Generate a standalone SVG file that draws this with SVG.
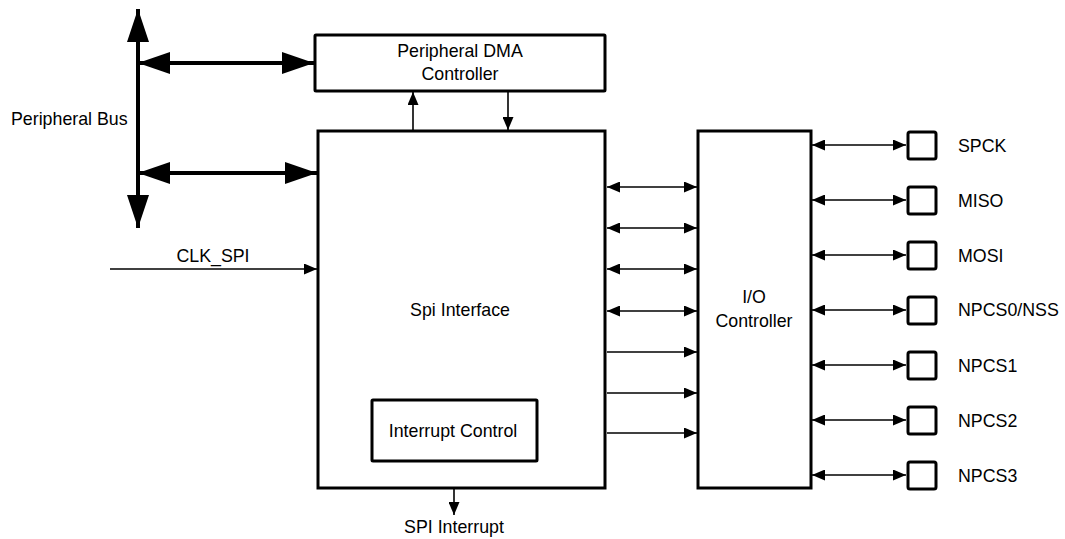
<svg xmlns="http://www.w3.org/2000/svg" width="1065" height="539" viewBox="0 0 1065 539">
<style>
text{font-family:"Liberation Sans",Arial,sans-serif;font-size:17.8px;fill:#000}
.c{text-anchor:middle}
.box{fill:#fff;stroke:#000;stroke-width:3}
.thin{stroke:#000;stroke-width:1.6;fill:none}
.thick{stroke:#000;stroke-width:4;fill:none}
</style>
<defs>
<marker id="big" markerUnits="userSpaceOnUse" viewBox="0 0 32 22" refX="32" refY="11" markerWidth="32" markerHeight="22" orient="auto-start-reverse"><path d="M0,0L32,11L0,22z" fill="#000"/></marker>
<marker id="bus" markerUnits="userSpaceOnUse" viewBox="0 0 33 22" refX="33" refY="11" markerWidth="33" markerHeight="22" orient="auto-start-reverse"><path d="M0,0L33,11L0,22z" fill="#000"/></marker>
<marker id="sm" markerUnits="userSpaceOnUse" viewBox="0 0 13 11" refX="13" refY="5.5" markerWidth="13" markerHeight="11" orient="auto-start-reverse"><path d="M0,0L13,5.5L0,11z" fill="#000"/></marker>
</defs>
<g id="connectors">
<line class="thick" x1="138" y1="9" x2="138" y2="228" marker-start="url(#bus)" marker-end="url(#bus)"/>
<line class="thick" x1="138" y1="63" x2="314" y2="63" marker-start="url(#big)" marker-end="url(#big)"/>
<line class="thick" x1="138" y1="173" x2="317" y2="173" marker-start="url(#big)" marker-end="url(#big)"/>
<line class="thin" x1="413" y1="131" x2="413" y2="92" marker-end="url(#sm)"/>
<line class="thin" x1="508" y1="92" x2="508" y2="130" marker-end="url(#sm)"/>
<line class="thin" x1="110" y1="269" x2="317" y2="269" marker-end="url(#sm)"/>
<line class="thin" x1="454" y1="462" x2="454" y2="515" marker-end="url(#sm)"/>
<g>
<line class="thin" x1="607" y1="187" x2="697" y2="187" marker-start="url(#sm)" marker-end="url(#sm)"/>
<line class="thin" x1="607" y1="228" x2="697" y2="228" marker-start="url(#sm)" marker-end="url(#sm)"/>
<line class="thin" x1="607" y1="269" x2="697" y2="269" marker-start="url(#sm)" marker-end="url(#sm)"/>
<line class="thin" x1="607" y1="311" x2="697" y2="311" marker-start="url(#sm)" marker-end="url(#sm)"/>
<line class="thin" x1="607" y1="352" x2="697" y2="352" marker-end="url(#sm)"/>
<line class="thin" x1="607" y1="393" x2="697" y2="393" marker-end="url(#sm)"/>
<line class="thin" x1="607" y1="433" x2="697" y2="433" marker-end="url(#sm)"/>
</g>
<g>
<line class="thin" x1="812" y1="145" x2="906" y2="145" marker-start="url(#sm)" marker-end="url(#sm)"/>
<line class="thin" x1="812" y1="200" x2="906" y2="200" marker-start="url(#sm)" marker-end="url(#sm)"/>
<line class="thin" x1="812" y1="255" x2="906" y2="255" marker-start="url(#sm)" marker-end="url(#sm)"/>
<line class="thin" x1="812" y1="310" x2="906" y2="310" marker-start="url(#sm)" marker-end="url(#sm)"/>
<line class="thin" x1="812" y1="365" x2="906" y2="365" marker-start="url(#sm)" marker-end="url(#sm)"/>
<line class="thin" x1="812" y1="420" x2="906" y2="420" marker-start="url(#sm)" marker-end="url(#sm)"/>
<line class="thin" x1="812" y1="475" x2="906" y2="475" marker-start="url(#sm)" marker-end="url(#sm)"/>
</g>
</g>
<g id="bus-label"><text x="11" y="125">Peripheral Bus</text></g>
<g id="clk-label"><text class="c" x="213" y="262">CLK_SPI</text></g>
<g id="dma"><rect class="box" x="315" y="35" width="290" height="56" rx="1"/><text class="c" x="460" y="57">Peripheral DMA</text><text class="c" x="460" y="80">Controller</text></g>
<g id="spi"><rect class="box" x="318" y="131" width="287" height="357"/><text class="c" x="460" y="316">Spi Interface</text></g>
<g id="irq"><rect class="box" x="372" y="400" width="165" height="61" rx="1"/><text class="c" x="453" y="437">Interrupt Control</text></g>
<g id="irq-label"><text class="c" x="454" y="533">SPI Interrupt</text></g>
<g id="io"><rect class="box" x="698" y="131" width="113" height="357"/><text class="c" x="754" y="303">I/O</text><text class="c" x="754" y="327">Controller</text></g>
<g id="pin-spck"><rect class="box" x="908" y="132" width="28" height="27" rx="2"/><text x="958" y="151.5">SPCK</text></g>
<g id="pin-miso"><rect class="box" x="908" y="187" width="28" height="27" rx="2"/><text x="958" y="206.5">MISO</text></g>
<g id="pin-mosi"><rect class="box" x="908" y="242" width="28" height="27" rx="2"/><text x="958" y="261.5">MOSI</text></g>
<g id="pin-npcs0"><rect class="box" x="908" y="297" width="28" height="27" rx="2"/><text x="958" y="316">NPCS0/NSS</text></g>
<g id="pin-npcs1"><rect class="box" x="908" y="352" width="28" height="27" rx="2"/><text x="958" y="371.5">NPCS1</text></g>
<g id="pin-npcs2"><rect class="box" x="908" y="407" width="28" height="27" rx="2"/><text x="958" y="426.5">NPCS2</text></g>
<g id="pin-npcs3"><rect class="box" x="908" y="462" width="28" height="27" rx="2"/><text x="958" y="481.5">NPCS3</text></g>
</svg>
